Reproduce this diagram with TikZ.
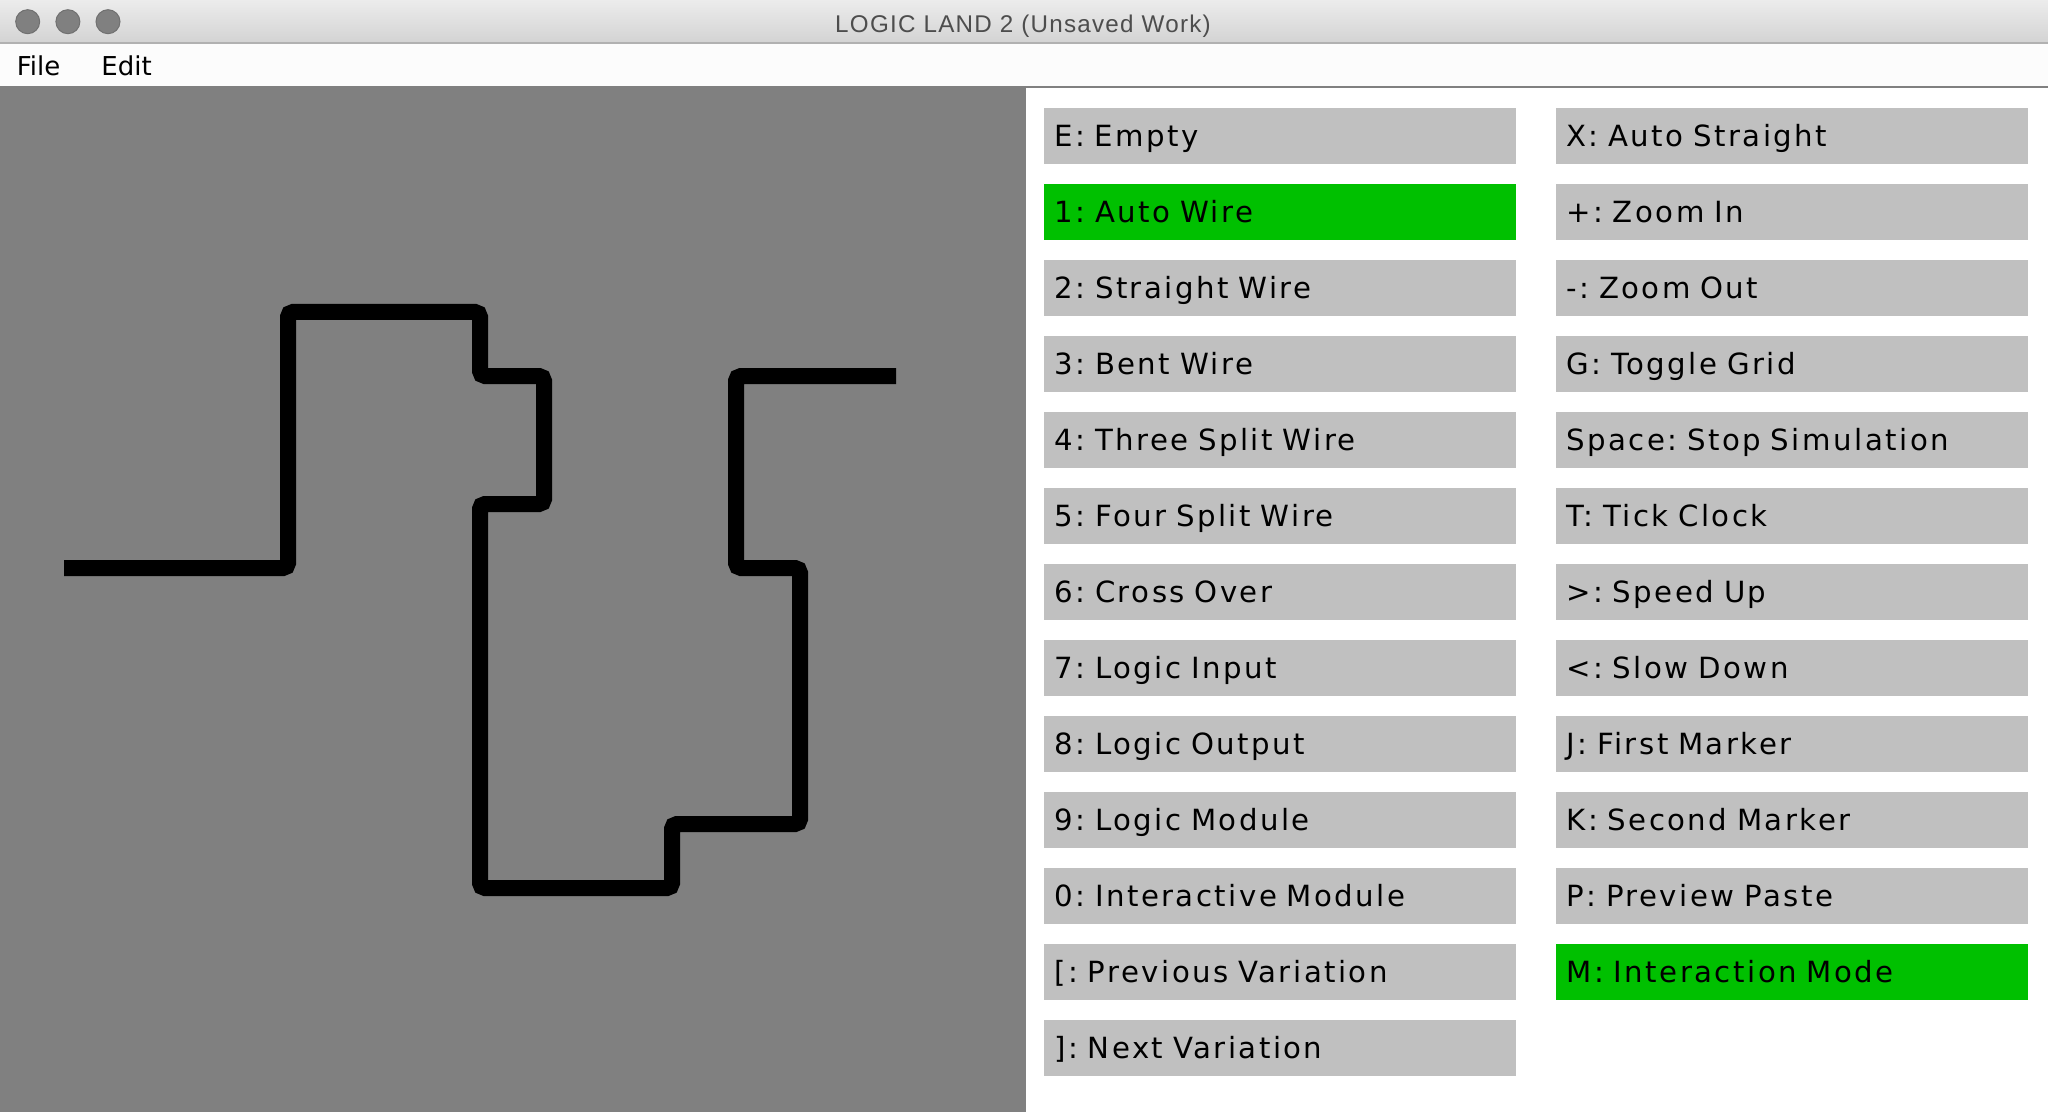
\documentclass[tikz,border=0pt]{standalone}
\usepackage{fontspec}
\setmainfont{DejaVu Sans}
\newfontfamily\btnfont[LetterSpace=8.5]{DejaVu Sans}
\newfontfamily\menufont{DejaVu Sans}
\newfontfamily\titlefont[LetterSpace=5.2]{Liberation Sans}
\definecolor{btngray}{RGB}{192,192,192}
\definecolor{btngreen}{RGB}{0,192,0}
\definecolor{canvasgray}{RGB}{128,128,128}
\definecolor{menuwhite}{RGB}{252,252,252}
\definecolor{titletop}{RGB}{236,236,236}
\definecolor{titlebot}{RGB}{211,211,211}
\definecolor{titleline}{RGB}{177,177,177}
\definecolor{titletext}{RGB}{77,77,77}
\definecolor{lightfill}{RGB}{128,128,128}
\definecolor{lightedge}{RGB}{112,112,112}
\tikzset{
  btn/.style={anchor=north west, fill=btngray, draw=none, inner xsep=5pt, inner ysep=0pt,
    minimum width=236pt, minimum height=28pt, text width=226pt, align=left,
    text height=19.25pt, text depth=8.75pt,
    font=\btnfont\fontsize{14.6pt}{17pt}\selectfont\frenchspacing},
  btnon/.style={btn, fill=btngreen},
  menuitem/.style={anchor=base west, inner sep=0pt, font=\menufont\fontsize{13pt}{15pt}\selectfont},
  wire/.style={line width=8pt, draw=black, rounded corners=2.5pt},
  light/.style={fill=lightfill, draw=lightedge, line width=0.5pt}
}
\begin{document}
\frenchspacing
\begin{tikzpicture}[x=0.5pt,y=-0.5pt]
\useasboundingbox (0,0) rectangle (2048,1112);
% title bar
\shade[top color=titletop, bottom color=titlebot] (0,0) rectangle (2048,43);
\draw[titleline, line width=1pt] (0,43.5) -- (2048,43.5);
\fill[light] (27.7,21.7) circle[radius=6pt];
\fill[light] (67.9,21.7) circle[radius=6pt];
\fill[light] (108,21.7) circle[radius=6pt];
\node[anchor=base, inner sep=0pt, text=titletext, font=\titlefont\fontsize{12.1pt}{14pt}\selectfont] (title) at (1023,32.3) {LOGIC LAND 2 (Unsaved Work)};
% menu bar
\fill[menuwhite] (0,44) rectangle (2048,86);
\node[menuitem] (file) at (16.5,76) {File};
\node[menuitem] (edit) at (101,76) {Edit};
% canvas and panel
\fill[canvasgray] (0,86) rectangle (2048,1112);
\fill[white] (1026,88) rectangle (2048,1112);
% wire
\draw[wire] (64,568) -| (288,312) -| (480,376) -| (544,504) -| (480,888) -| (672,824) -| (800,568) -| (736,376) -- (896,376);
% left column buttons
\node[btn]   (l0)  at (1044,108)  {E: Empty};
\node[btnon] (l1)  at (1044,184)  {1: Auto Wire};
\node[btn]   (l2)  at (1044,260)  {2: Straight Wire};
\node[btn]   (l3)  at (1044,336)  {3: Bent Wire};
\node[btn]   (l4)  at (1044,412)  {4: Three Split Wire};
\node[btn]   (l5)  at (1044,488)  {5: Four Split Wire};
\node[btn]   (l6)  at (1044,564)  {6: Cross Over};
\node[btn]   (l7)  at (1044,640)  {7: Logic Input};
\node[btn]   (l8)  at (1044,716)  {8: Logic Output};
\node[btn]   (l9)  at (1044,792)  {9: Logic Module};
\node[btn]   (l10) at (1044,868)  {0: Interactive Module};
\node[btn]   (l11) at (1044,944)  {[: Previous Variation};
\node[btn]   (l12) at (1044,1020) {]: Next Variation};
% right column buttons
\node[btn]   (r0)  at (1556,108)  {X: Auto Straight};
\node[btn]   (r1)  at (1556,184)  {+: Zoom In};
\node[btn]   (r2)  at (1556,260)  {-: Zoom Out};
\node[btn]   (r3)  at (1556,336)  {G: Toggle Grid};
\node[btn]   (r4)  at (1556,412)  {Space: Stop Simulation};
\node[btn]   (r5)  at (1556,488)  {T: Tick Clock};
\node[btn]   (r6)  at (1556,564)  {>: Speed Up};
\node[btn]   (r7)  at (1556,640)  {<: Slow Down};
\node[btn]   (r8)  at (1556,716)  {J: First Marker};
\node[btn]   (r9)  at (1556,792)  {K: Second Marker};
\node[btn]   (r10) at (1556,868)  {P: Preview Paste};
\node[btnon] (r11) at (1556,944)  {M: Interaction Mode};
\end{tikzpicture}
\end{document}
